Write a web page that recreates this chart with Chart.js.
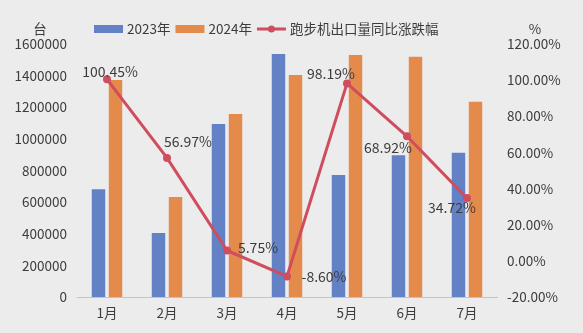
<!DOCTYPE html>
<html>
<head>
<meta charset="utf-8">
<script src="https://cdn.jsdelivr.net/npm/chart.js@4/dist/chart.umd.min.js"></script>
<style>
  html, body { margin: 0; padding: 0; background: #ececec; overflow: hidden; }
  #wrap { width: 583px; height: 333px; position: relative; }
  canvas { display: block; }
</style>
</head>
<body>
<div id="wrap"><canvas id="c" width="583" height="333"></canvas></div>
<script>
// Treadmill exports by month, units (台), and year-on-year change (%)
const months = ['1月', '2月', '3月', '4月', '5月', '6月', '7月'];
const exports2023 = [682000, 405000, 1094000, 1537000, 771000, 897000, 912000];
const exports2024 = [1372000, 633000, 1157000, 1404000, 1531000, 1520000, 1235000];
const yoyChange = [100.45, 56.97, 5.75, -8.60, 98.19, 68.92, 34.72];
const seriesNames = ['2023年', '2024年', '跑步机出口量同比涨跌幅'];
const leftUnit = '台';
const rightUnit = '%';

const FONT = '"Noto Sans CJK SC", "Noto Sans", sans-serif';
const TEXT = '#3c3c3c';
const BLUE = 'rgb(99,130,197)';
const ORANGE = 'rgb(228,139,76)';
const RED = 'rgb(207,77,94)';

// where each value label sits relative to its point (px)
const labelNudge = [[3, -8], [21, -16], [31, -3], [37, 0], [-16, -10], [-19, 11], [-15, 10]];

const decorations = {
  id: 'decorations',
  beforeDraw(chart) {
    const ctx = chart.ctx;
    ctx.save();
    ctx.fillStyle = '#ececec';
    ctx.fillRect(0, 0, chart.width, chart.height);
    ctx.restore();
  },
  afterDatasetsDraw(chart) {
    const ctx = chart.ctx;
    const meta = chart.getDatasetMeta(2);
    ctx.save();
    ctx.font = '14px ' + FONT;
    ctx.fillStyle = TEXT;
    ctx.textAlign = 'center';
    ctx.textBaseline = 'middle';
    meta.data.forEach((pt, i) => {
      const v = chart.data.datasets[2].data[i];
      const [dx, dy] = labelNudge[i];
      ctx.fillText(v.toFixed(2) + '%', pt.x + dx, pt.y + dy);
    });
    ctx.restore();
  },
  afterDraw(chart) {
    const ctx = chart.ctx;
    ctx.save();
    ctx.font = '13.5px ' + FONT;
    ctx.fillStyle = TEXT;
    ctx.textBaseline = 'middle';
    ctx.textAlign = 'center';
    const yRow = 29;
    ctx.fillText(leftUnit, 40, yRow);
    ctx.fillText(rightUnit, 535, yRow);

    // legend
    ctx.textAlign = 'left';
    let x = 94;
    chart.data.datasets.forEach((ds) => {
      const w = 29;
      if (ds.type === 'line') {
        ctx.strokeStyle = ds.borderColor;
        ctx.lineWidth = 3;
        ctx.beginPath();
        ctx.moveTo(x, yRow);
        ctx.lineTo(x + w, yRow);
        ctx.stroke();
        ctx.fillStyle = ds.borderColor;
        ctx.beginPath();
        ctx.arc(x + w / 2, yRow, 3.5, 0, Math.PI * 2);
        ctx.fill();
      } else {
        ctx.fillStyle = ds.backgroundColor;
        ctx.fillRect(x, yRow - 4, w, 8);
      }
      x += w + 4;
      ctx.fillStyle = TEXT;
      ctx.fillText(ds.label, x, yRow);
      x += ctx.measureText(ds.label).width + 5;
    });
    ctx.restore();
  }
};

const tickFont = { family: FONT, size: 13.5 };

new Chart(document.getElementById('c'), {
  type: 'bar',
  data: {
    labels: months,
    datasets: [
      { label: seriesNames[0], data: exports2023, backgroundColor: BLUE, yAxisID: 'y', order: 2,
        categoryPercentage: 0.567, barPercentage: 0.79 },
      { label: seriesNames[1], data: exports2024, backgroundColor: ORANGE, yAxisID: 'y', order: 2,
        categoryPercentage: 0.567, barPercentage: 0.79 },
      { type: 'line', label: seriesNames[2], data: yoyChange, yAxisID: 'y1', order: 0,
        borderColor: RED, backgroundColor: RED, borderWidth: 3,
        pointRadius: 4, pointBackgroundColor: RED, pointBorderWidth: 0, tension: 0 }
    ]
  },
  options: {
    responsive: false,
    animation: false,
    devicePixelRatio: 1,
    layout: { padding: { top: 44, left: 0, right: 0, bottom: 0 } },
    plugins: { legend: { display: false }, tooltip: { enabled: false } },
    scales: {
      x: {
        grid: { display: false, drawTicks: false },
        border: { display: true, color: '#c4c4c4', width: 1 },
        ticks: { color: TEXT, font: tickFont, padding: 8, maxRotation: 0 },
        afterFit(s) { s.height = 36; }
      },
      y: {
        position: 'left', min: 0, max: 1600000,
        grid: { display: false, drawTicks: false },
        border: { display: false },
        ticks: { stepSize: 200000, color: TEXT, font: tickFont, padding: 10,
          callback: v => String(v) },
        afterFit(s) { s.width = 77; }
      },
      y1: {
        position: 'right', min: -20, max: 120,
        grid: { display: false, drawTicks: false },
        border: { display: false },
        ticks: { stepSize: 20, color: TEXT, font: tickFont, padding: 10,
          callback: v => v.toFixed(2) + '%' },
        afterFit(s) { s.width = 86; }
      }
    }
  },
  plugins: [decorations]
});
</script>
</body>
</html>
